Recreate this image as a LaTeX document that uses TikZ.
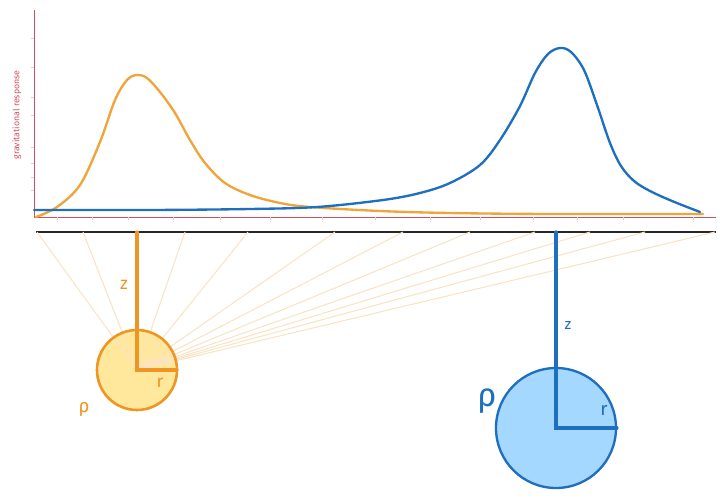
\documentclass[tikz,border=0pt]{standalone}
\usepackage{fontspec}
\setmainfont{Fira Sans}
\usetikzlibrary{calc}

\definecolor{axisred}{HTML}{D0505E}
\definecolor{oline}{HTML}{EE9522}
\definecolor{ocurve}{HTML}{F0A43A}
\definecolor{ofill}{HTML}{FFE89C}
\definecolor{ofan}{HTML}{F9E3C4}
\definecolor{bline}{HTML}{1F6FC0}
\definecolor{bfill}{HTML}{A5D8FF}

\begin{document}
\begin{tikzpicture}[x=0.03cm, y=-0.03cm,
  curve/.style={line width=2pt, line cap=round, line join=round},
  arm/.style={line width=2.6pt, line cap=round},
  lbl/.style={inner sep=0pt, font=\fontsize{15}{15}\selectfont}]
  \useasboundingbox (0,0) rectangle (726,498);

  % axes
  \coordinate (O) at (34,217);
  \coordinate (ytop) at (34,10);
  \coordinate (xend) at (716,217);
  \draw[axisred, line width=0.8pt] (ytop) -- (O) -- (xend);
  \foreach \y in {38,67,97,115,147,163,177,190}
    \draw[axisred!30] (31,\y) -- (34,\y);
  \foreach \x in {57,92,128,173,220,270,322,375,430,480,533,577,623,693}
    \draw[axisred!30] (\x,217) -- (\x,220);
  \node[rotate=90, text=axisred, inner sep=0pt,
        font=\fontsize{7.5}{8}\selectfont] (ylab) at (17,115) {gravitational response};

  % ground
  \coordinate (gl) at (36,232);
  \coordinate (gr) at (716,232);
  \draw[line width=1.6pt, black!85] (gl) -- (gr);

  % small body
  \coordinate (oc) at (137,370);
  \coordinate (ot) at (137,232);
  \coordinate (or) at (177,370);
  \fill[ofill] (oc) circle[radius=40];
  \foreach \x in {37,83,185,248,335,403,470,535,590,645,715}
    \draw[ofan, line width=0.9pt] (oc) -- (\x,232);
  \draw[oline, line width=2.2pt] (oc) circle[radius=40];
  \draw[oline, arm] (ot) -- (oc) -- (or);
  \node[lbl, text=oline] (oz) at (124,285) {z};
  \node[lbl, text=oline] (orl) at (160,383) {r};
  \node[lbl, text=oline, font=\fontsize{16}{16}\selectfont] (orho) at (84,409) {ρ};

  % big body
  \coordinate (bc) at (556,428);
  \coordinate (bt) at (556,232);
  \coordinate (br) at (617,428);
  \draw[bline, fill=bfill, line width=2pt] (bc) circle[radius=60];
  \draw[bline, arm] (bt) -- (bc) -- (br);
  \node[lbl, text=bline, font=\fontsize{13}{13}\selectfont] (bz) at (568,325) {z};
  \node[lbl, text=bline, font=\fontsize{16}{16}\selectfont] (brl) at (604,410) {r};
  \node[lbl, text=bline, font=\fontsize{28}{28}\selectfont] (brho) at (487,401) {ρ};

  % responses
  \draw[curve, ocurve] plot[smooth, tension=0.55] coordinates {
    (36,217) (57,207) (80,185) (100,142) (115,100) (127,80) (137,75)
    (147,78) (160,92) (175,113) (190,140) (205,163) (225,183)
    (250,195) (280,203) (310,207) (380,211) (450,213) (550,214) (703,214)};
  \draw[curve, bline] plot[smooth, tension=0.55] coordinates {
    (34,210) (150,210) (250,209) (317,207) (383,200) (420,193)
    (450,183) (480,165) (500,140) (520,106) (535,73) (548,54)
    (560,48) (571,52) (584,70) (597,105) (610,143) (621,166)
    (634,181) (650,191) (672,201) (700,212)};
\end{tikzpicture}
\end{document}
